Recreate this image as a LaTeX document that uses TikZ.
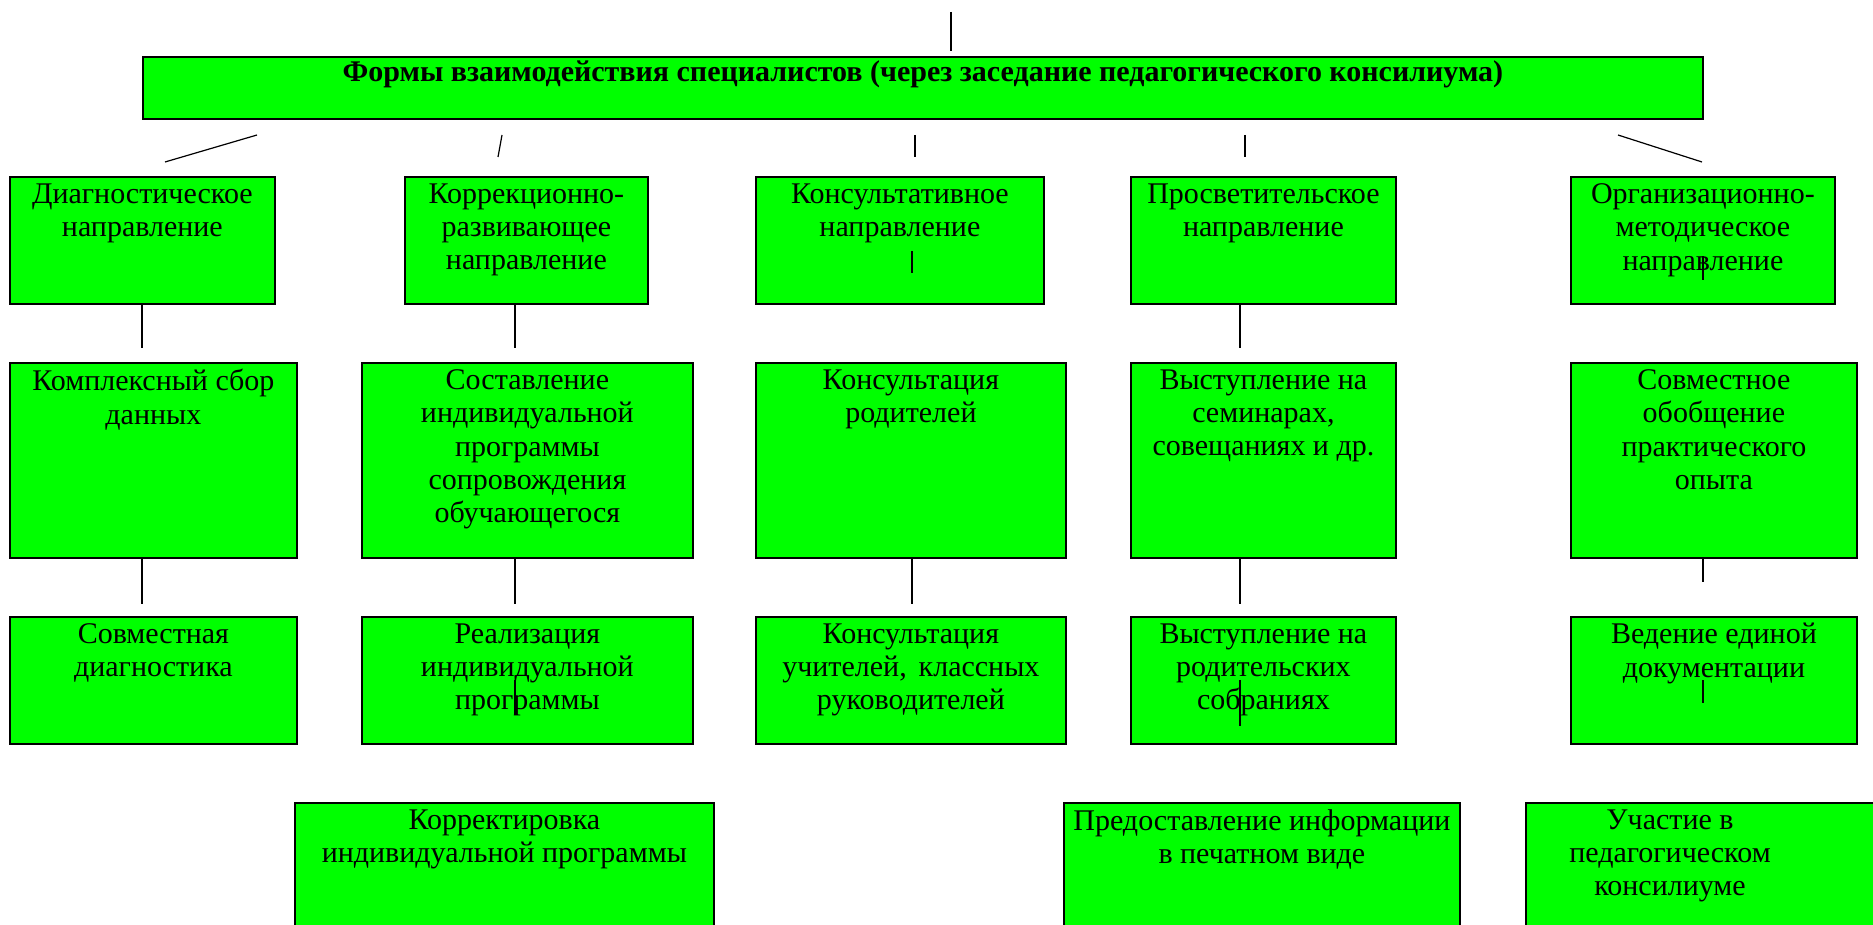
\documentclass[tikz,border=0pt]{standalone}
\usepackage{fontspec}
\setmainfont{Liberation Serif}
\usetikzlibrary{positioning}
\definecolor{zelen}{RGB}{0,255,0}
\tikzset{
  blok/.style={draw, line width=0.9pt, fill=zelen, anchor=north west, inner sep=0pt},
  txt/.style={inner sep=0pt, align=center, font=\fontsize{15}{16.7}\selectfont},
  stub/.style={line width=0.6pt}
}
\begin{document}
\begin{tikzpicture}[x=0.5pt, y=-0.5pt]
 \clip (0,0) rectangle (1873,925);

% Title block
 \node[blok, minimum width=780pt, minimum height=31pt] (form) at (142,56) {};
 \node[txt, font=\fontsize{15}{16.7}\selectfont\bfseries, below=2pt of form.north] (formt)
   {Формы взаимодействия специалистов (через заседание педагогического консилиума)};
 \draw[stub] (951,12) -- (951,51); % line above title

% Stubs under the title (they touch nothing)
 \draw[stub] (257,135) -- (165,162);
 \draw[stub] (502,135) -- (498,157);
 \draw[stub] (915,135) -- (915,157);
 \draw[stub] (1245,135) -- (1245,157);
 \draw[stub] (1618,135) -- (1702,162);

% Row 1: directions
 \node[blok, minimum width=132.5pt, minimum height=63.5pt] (diag) at (9,176) {};
 \node[txt, below=3.5pt of diag.north] (diagt) {Диагностическое\\направление};
 \node[blok, minimum width=121.5pt, minimum height=63.5pt] (korr) at (404,176) {};
 \node[txt, below=3.5pt of korr.north] (korrt) {Коррекционно-\\развивающее\\направление};
 \node[blok, minimum width=144pt, minimum height=63.5pt] (kons) at (755,176) {};
 \node[txt, below=3.5pt of kons.north] (konst) {Консультативное\\направление};
 \node[blok, minimum width=132.5pt, minimum height=63.5pt] (prosv) at (1130,176) {};
 \node[txt, below=3.5pt of prosv.north] (prosvt) {Просветительское\\направление};
 \node[blok, minimum width=132pt, minimum height=63.5pt] (org) at (1570,176) {};
 \node[txt, below=3.5pt of org.north] (orgt) {Организационно-\\методическое\\направление};
 \draw[stub] (912,251) -- (912,273); % stray mark in kons
 \draw[stub] (1703,256) -- (1703,280); % stray mark in org

% Row 1 -> row 2
 \draw[stub] (diag.south -| 142,0) -- ++(0,43);
 \draw[stub] (korr.south -| 515,0) -- ++(0,43);
 \draw[stub] (prosv.south -| 1240,0) -- ++(0,43);

% Row 2
 \node[blok, minimum width=143.5pt, minimum height=97.5pt] (diag2) at (9,362) {};
 \node[txt, below=3.5pt of diag2.north] (diag2t) {Комплексный сбор\\данных};
 \node[blok, minimum width=165.5pt, minimum height=97.5pt] (korr2) at (361,362) {};
 \node[txt, below=3.5pt of korr2.north] (korr2t) {Составление\\индивидуальной\\программы\\сопровождения\\обучающегося};
 \node[blok, minimum width=155pt, minimum height=97.5pt] (kons2) at (755,362) {};
 \node[txt, below=3.5pt of kons2.north] (kons2t) {Консультация\\родителей};
 \node[blok, minimum width=132.5pt, minimum height=97.5pt] (prosv2) at (1130,362) {};
 \node[txt, below=3.5pt of prosv2.north] (prosv2t) {Выступление на\\семинарах,\\совещаниях и др.};
 \node[blok, minimum width=143pt, minimum height=97.5pt] (org2) at (1570,362) {};
 \node[txt, below=3.5pt of org2.north] (org2t) {Совместное\\обобщение\\практического\\опыта};

% Row 2 -> row 3
 \draw[stub] (diag2.south -| 142,0) -- ++(0,45);
 \draw[stub] (korr2.south -| 515,0) -- ++(0,45);
 \draw[stub] (kons2.south -| 912,0) -- ++(0,45);
 \draw[stub] (prosv2.south -| 1240,0) -- ++(0,45);
 \draw[stub] (org2.south -| 1703,0) -- ++(0,23);

% Row 3
 \node[blok, minimum width=143.5pt, minimum height=63.5pt] (diag3) at (9,616) {};
 \node[txt, below=3.5pt of diag3.north] (diag3t) {Совместная\\диагностика};
 \node[blok, minimum width=165.5pt, minimum height=63.5pt] (korr3) at (361,616) {};
 \node[txt, below=3.5pt of korr3.north] (korr3t) {Реализация\\индивидуальной\\программы};
 \node[blok, minimum width=155pt, minimum height=63.5pt] (kons3) at (755,616) {};
 \node[txt, below=3.5pt of kons3.north] (kons3t) {Консультация\\учителей,\hspace{0.15em} классных\\руководителей};
 \node[blok, minimum width=132.5pt, minimum height=63.5pt] (prosv3) at (1130,616) {};
 \node[txt, below=3.5pt of prosv3.north] (prosv3t) {Выступление на\\родительских\\собраниях};
 \node[blok, minimum width=143pt, minimum height=63.5pt] (org3) at (1570,616) {};
 \node[txt, below=3.5pt of org3.north] (org3t) {Ведение единой\\документации};
 \draw[stub] (515,680) -- (515,715); % stray marks over text
 \draw[stub] (1240,680) -- (1240,726);
 \draw[stub] (1703,680) -- (1703,703);

% Row 4 (cut by the page edge)
 \node[blok, minimum width=209.5pt, minimum height=100pt] (korr4) at (294,802) {};
 \node[txt, below=3.5pt of korr4.north] (korr4t) {Корректировка\\индивидуальной программы};
 \node[blok, minimum width=198pt, minimum height=100pt] (prosv4) at (1063,802) {};
 \node[txt, below=3.5pt of prosv4.north] (prosv4t) {Предоставление информации\\в печатном виде};
 \node[blok, minimum width=200pt, minimum height=100pt] (org4) at (1525,802) {};
 \node[txt, anchor=north] (org4t) at (1670,809) {Участие в\\педагогическом\\консилиуме};

\end{tikzpicture}
\end{document}
